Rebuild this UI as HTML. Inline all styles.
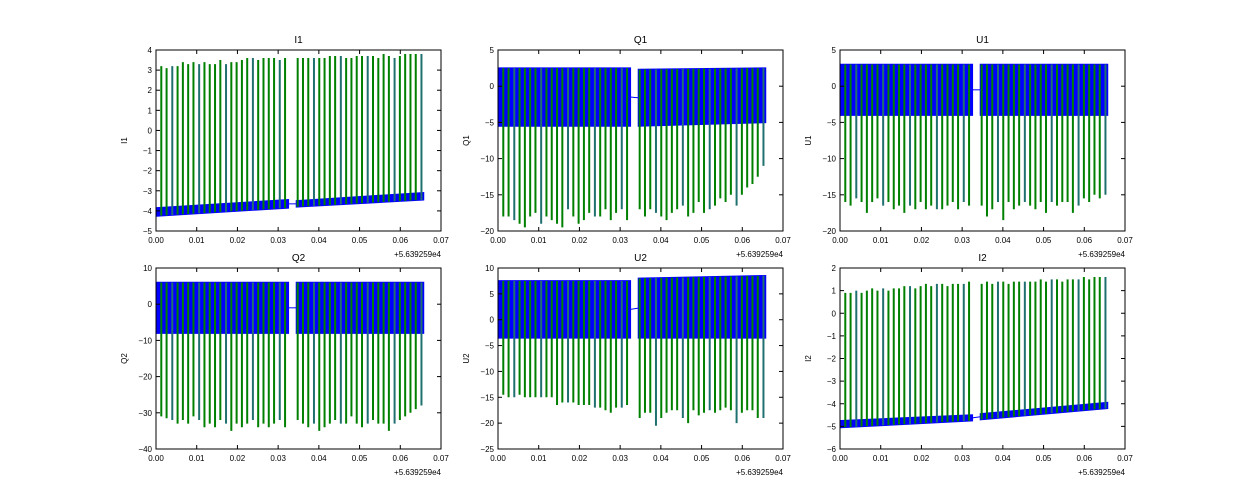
<!DOCTYPE html>
<html><head><meta charset="utf-8"><style>
html,body{margin:0;padding:0;background:#fff;}
svg{display:block;font-family:"Liberation Sans",sans-serif;}
</style></head><body>
<svg id="fig" width="1250" height="500"></svg>
<script>
const times=[0.0013,0.0026,0.0040,0.0053,0.0066,0.0079,0.0092,0.0106,0.0119,0.0132,0.0145,0.0158,0.0172,0.0185,0.0198,0.0211,0.0224,0.0238,0.0251,0.0264,0.0277,0.0290,0.0304,0.0317,0.0348,0.0361,0.0374,0.0388,0.0401,0.0414,0.0427,0.0440,0.0454,0.0467,0.0480,0.0493,0.0506,0.0520,0.0533,0.0546,0.0559,0.0572,0.0586,0.0599,0.0612,0.0625,0.0638,0.0652];
const bandKnots=[0.0003,0.0325,0.0345,0.0657];
const xTicks=[0,0.01,0.02,0.03,0.04,0.05,0.06,0.07];
const xTickLabels=["0.00","0.01","0.02","0.03","0.04","0.05","0.06","0.07"];
const I1Spikes=[3.2,3.1,3.2,3.2,3.4,3.3,3.4,3.3,3.4,3.3,3.3,3.5,3.3,3.4,3.4,3.5,3.6,3.6,3.5,3.6,3.6,3.6,3.5,3.6,3.6,3.6,3.6,3.6,3.6,3.6,3.7,3.7,3.7,3.6,3.6,3.7,3.7,3.7,3.7,3.6,3.8,3.7,3.6,3.7,3.8,3.8,3.8,3.8];
const Q1Spikes=[-18,-18,-18.5,-19,-19.5,-18,-17.5,-19,-18,-18.5,-19,-19.5,-17,-18,-19,-18.5,-17.5,-18,-18,-17,-18.5,-17.5,-17,-18.5,-17,-18,-17,-17.5,-18,-18.5,-17.5,-17,-16.5,-18,-17.5,-16,-17.5,-17,-16.5,-15.5,-16,-15,-16.5,-15,-14,-13.5,-12.5,-11];
const U1Spikes=[-16,-16.5,-15.5,-16,-17.5,-16,-15.5,-16.5,-16,-17,-16.5,-17.5,-16.5,-17,-16,-17,-16.5,-17,-17,-16.5,-16,-17,-16,-16.5,-16.5,-18,-17,-16,-18.5,-16,-17,-16.5,-16,-16.5,-17,-16,-17.5,-16,-16.5,-16,-16,-17.5,-16.5,-15.5,-16,-15,-15.5,-15];
const Q2Spikes=[-31,-31.5,-32,-33,-32,-33,-31,-32,-34,-33,-34,-32,-33,-35,-33,-34,-33,-32,-34,-33,-34,-33,-32,-34,-32,-33,-34,-33,-35,-34,-33,-32,-33,-33,-31,-33,-34,-33,-32,-33,-33,-35,-33,-32,-31,-30,-29,-28];
const U2Spikes=[-14.5,-15,-15,-14.5,-15,-15,-15,-15,-15,-15,-16.5,-16,-16,-16,-16.5,-16.5,-16.5,-17,-17,-17.5,-18,-17,-17,-16.5,-19,-18,-18,-20.5,-19,-18,-17.5,-17.5,-19,-20,-17.5,-18.5,-18,-17.5,-18,-17.5,-17,-17.5,-20,-18,-17.5,-17.5,-19,-19];
const I2Spikes=[0.9,0.9,1.0,0.9,1.0,1.1,1.0,1.1,1.0,1.1,1.1,1.2,1.2,1.1,1.2,1.3,1.2,1.3,1.3,1.2,1.3,1.3,1.3,1.4,1.3,1.4,1.3,1.4,1.4,1.3,1.4,1.4,1.4,1.4,1.4,1.5,1.4,1.5,1.5,1.4,1.5,1.5,1.5,1.6,1.5,1.6,1.6,1.6];
const I1Low=[-4.25,-3.85,-3.8,-3.45], I1High=[-3.85,-3.45,-3.5,-3.1];
const Q1Low=[-5.5,-5.5,-5.5,-5], Q1High=[2.5,2.5,2.3,2.5];
const U1Low=[-4,-4,-4,-4], U1High=[3,3,3,3];
const Q2Low=[-8,-8,-8,-8], Q2High=[6,6,6,6];
const U2Low=[-3.5,-3.5,-3.5,-3.5], U2High=[7.5,7.5,8,8.5];
const I2Low=[-5.05,-4.75,-4.7,-4.2], I2High=[-4.75,-4.5,-4.45,-3.95];

const panels=[
 {name:"I1",x:156,y:50,ymin:-5,ymax:4,step:1,spikes:I1Spikes,low:I1Low,high:I1High},
 {name:"Q1",x:498,y:50,ymin:-20,ymax:5,step:5,spikes:Q1Spikes,low:Q1Low,high:Q1High},
 {name:"U1",x:840,y:50,ymin:-20,ymax:5,step:5,spikes:U1Spikes,low:U1Low,high:U1High},
 {name:"Q2",x:156,y:268,ymin:-40,ymax:10,step:10,spikes:Q2Spikes,low:Q2Low,high:Q2High},
 {name:"U2",x:498,y:268,ymin:-25,ymax:10,step:5,spikes:U2Spikes,low:U2Low,high:U2High},
 {name:"I2",x:840,y:268,ymin:-6,ymax:2,step:1,spikes:I2Spikes,low:I2Low,high:I2High}
];
const W=285,H=181,NS="http://www.w3.org/2000/svg";
const fig=document.getElementById('fig');
function mk(tag,attrs,parent,text){const e=document.createElementNS(NS,tag);for(const k in attrs)e.setAttribute(k,attrs[k]);if(text!==undefined)e.textContent=text;parent.appendChild(e);return e;}
function interp(t,vals){for(let i=0;i<bandKnots.length-1;i++){if(t<=bandKnots[i+1]){const f=(t-bandKnots[i])/(bandKnots[i+1]-bandKnots[i]);return vals[i]+f*(vals[i+1]-vals[i]);}}return vals[vals.length-1];}
panels.forEach(p=>{
 const g=mk('g',{},fig);
 
 
 const sx=v=>p.x+v/0.07*W;
 const sy=v=>p.y+(p.ymax-v)/(p.ymax-p.ymin)*H;
 const clip=mk('clipPath',{id:'c'+p.name},g);mk('rect',{x:p.x,y:p.y,width:W,height:H},clip);
 const pg=mk('g',{'clip-path':'url(#c'+p.name+')'},g);
 [[0,1],[2,3]].forEach((seg,si)=>{
  const a=bandKnots[seg[0]],b=bandKnots[seg[1]];
  const pts=`${sx(a)},${sy(p.high[seg[0]])} ${sx(b)},${sy(p.high[seg[1]])} ${sx(b)},${sy(p.low[seg[1]])} ${sx(a)},${sy(p.low[seg[0]])}`;
  const band=mk('polygon',{points:pts,fill:'#0000ff',stroke:'#0000ff','stroke-width':1.5},pg);
  
  
 });
 const midA=(p.low[1]+p.high[1])/2,midB=(p.low[2]+p.high[2])/2;
 const conn=mk('line',{x1:sx(bandKnots[1]),y1:sy(midA),x2:sx(bandKnots[2]),y2:sy(midB),stroke:'#0000ff','stroke-width':1},pg);
 
 
 times.forEach((t,i)=>{
  const v=p.spikes[i];
  const base=v>0?interp(t,p.low):interp(t,p.high);
  const l=mk('line',{x1:sx(t),x2:sx(t),y1:sy(base),y2:sy(v),stroke:(i%5===2)?'#207070':'#008000','stroke-width':2},pg);
  
  
 });
 const frame=mk('rect',{x:p.x,y:p.y,width:W,height:H,fill:'none',stroke:'#000','stroke-width':1},g);
 
 
 xTicks.forEach((t,i)=>{
  const X=sx(t);
  mk('line',{x1:X,x2:X,y1:p.y+H,y2:p.y+H-4,stroke:'#000'},g);
  mk('line',{x1:X,x2:X,y1:p.y,y2:p.y+4,stroke:'#000'},g);
  const tx=mk('text',{x:X,y:p.y+H+12,'font-size':8,'text-anchor':'middle'},g,xTickLabels[i]);
  
  
 });
 for(let v=p.ymin;v<=p.ymax+1e-9;v+=p.step){
  const Y=sy(v);
  mk('line',{x1:p.x,x2:p.x+4,y1:Y,y2:Y,stroke:'#000'},g);
  mk('line',{x1:p.x+W,x2:p.x+W-4,y1:Y,y2:Y,stroke:'#000'},g);
  const ty=mk('text',{x:p.x-4,y:Y+3,'font-size':8,'text-anchor':'end'},g,String(v).replace('-','\u2212'));
  
  
 }
 const off=mk('text',{x:p.x+W,y:p.y+H+26,'font-size':8,'text-anchor':'end'},g,'+5.639259e4');
 
 
 const ti=mk('text',{x:p.x+W/2,y:p.y-7,'font-size':10,'text-anchor':'middle'},g,p.name);
 
 
 const yl=mk('text',{x:0,y:0,'font-size':8,'text-anchor':'middle',transform:`translate(${p.x-29},${p.y+H/2}) rotate(-90)`},g,p.name);
 
 
});
</script>
</body></html>
